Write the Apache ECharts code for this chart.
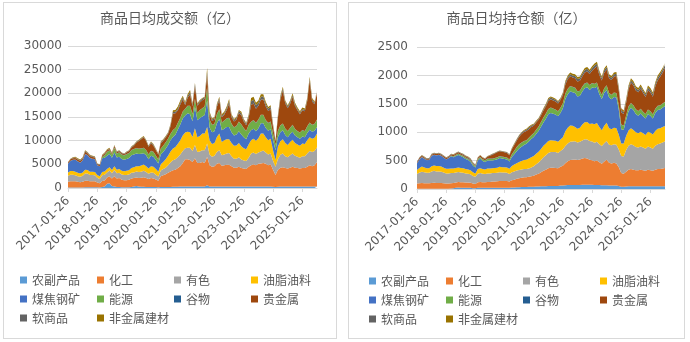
<!DOCTYPE html>
<html><head><meta charset="utf-8">
<script src="https://cdn.jsdelivr.net/npm/echarts/dist/echarts.min.js"></script>
<style>
html,body{margin:0;padding:0;background:#fff;width:690px;height:342px;overflow:hidden}
.panel{position:absolute;top:2px;height:335px;border:1px solid #d9d9d9;background:#fff}
#p1{left:3px;width:332px}
#p2{left:348px;width:335px}
</style></head><body>
<div id="p1" class="panel"></div><div id="p2" class="panel"></div>
<script>
const categories = [
'2017-01-26','2017-02-26','2017-03-26','2017-04-26','2017-05-26','2017-06-26','2017-07-26','2017-08-26','2017-09-26','2017-10-26','2017-11-26','2017-12-26',
'2018-01-26','2018-02-26','2018-03-26','2018-04-26','2018-05-26','2018-06-26','2018-07-26','2018-08-26','2018-09-26','2018-10-26','2018-11-26','2018-12-26',
'2019-01-26','2019-02-26','2019-03-26','2019-04-26','2019-05-26','2019-06-26','2019-07-26','2019-08-26','2019-09-26','2019-10-26','2019-11-26','2019-12-26',
'2020-01-26','2020-02-26','2020-03-26','2020-04-26','2020-05-26','2020-06-26','2020-07-26','2020-08-26','2020-09-26','2020-10-26','2020-11-26','2020-12-26',
'2021-01-26','2021-02-26','2021-03-26','2021-04-26','2021-05-26','2021-06-26','2021-07-26','2021-08-26','2021-09-26','2021-10-26','2021-11-26','2021-12-26',
'2022-01-26','2022-02-26','2022-03-26','2022-04-26','2022-05-26','2022-06-26','2022-07-26','2022-08-26','2022-09-26','2022-10-26','2022-11-26','2022-12-26',
'2023-01-26','2023-02-26','2023-03-26','2023-04-26','2023-05-26','2023-06-26','2023-07-26','2023-08-26','2023-09-26','2023-10-26','2023-11-26','2023-12-26',
'2024-01-26','2024-02-26','2024-03-26','2024-04-26','2024-05-26','2024-06-26','2024-07-26','2024-08-26','2024-09-26','2024-10-26','2024-11-26','2024-12-26',
'2025-01-26','2025-02-26','2025-03-26','2025-04-26','2025-05-26','2025-06-26','2025-07-26'];

const seriesNames = ['农副产品','化工','有色','油脂油料','煤焦钢矿','能源','谷物','贵金属','软商品','非金属建材'];
const seriesColors = ['#5B9BD5','#ED7D31','#A5A5A5','#FFC000','#4472C4','#70AD47','#255E91','#9E480E','#636363','#997300'];

const titleTurnover = '商品日均成交额（亿）';
const titleOI = '商品日均持仓额（亿）';
const yTicksTurnover = [0,5000,10000,15000,20000,25000,30000];
const yTicksOI = [0,500,1000,1500,2000,2500];

// ---- 成交额 (turnover) ----
const tAgri = [100,100,100,100,100,100,100,150,150,150,150,150,
150,120,200,300,900,1000,400,300,200,200,150,150,
150,150,200,300,400,300,250,250,200,200,200,200,
200,150,200,200,200,200,200,250,250,250,300,300,
300,300,300,300,300,300,300,300,300,600,300,300,
300,300,300,300,300,300,300,300,300,300,300,300,
300,300,300,300,300,300,300,300,300,300,300,300,
250,200,250,300,300,300,300,300,300,300,300,300,
300,300,300,300,300,300,300];
const tChem = [1200,1300,1300,1300,1200,1100,1200,1400,1400,1300,1300,1250,
1000,900,1300,1300,1300,1500,1600,2200,1800,1900,1600,1500,
1500,1600,1800,1800,1800,1800,1900,2000,1900,1700,1900,1800,
1600,1400,2300,2500,2700,3000,3300,3500,3600,4000,4300,5000,
5800,5800,5600,5200,6000,5000,5000,5200,5000,6000,4500,4200,
4300,4800,5000,4400,4500,4600,4600,4300,4000,4000,4200,3900,
3800,3700,4200,4500,4700,4500,4800,4900,5000,4800,4500,4700,
3600,2550,3600,4000,4100,3900,3800,4000,4200,4000,3900,3800,
3900,3900,4200,4500,4300,4500,5200];
const tNonferrous = [1300,1400,1400,1300,1200,1200,1300,1500,1500,1300,1300,1300,
1000,900,1200,1200,1100,1200,1100,1300,1100,1100,1100,1100,
1100,1100,1200,1200,1300,1300,1300,1400,1300,1100,1200,1200,
1000,900,1200,1300,1400,1600,1900,2100,2200,2300,2500,2500,
2300,2400,2600,2300,2800,2300,2400,2500,2700,2800,2300,2100,
2200,2500,2700,2200,2300,2400,2500,2100,1900,1900,2000,1800,
1700,1700,1900,2500,2500,2400,2400,2500,2600,2400,2300,2300,
1900,1750,2300,2700,2900,2500,2400,2600,2800,2500,2400,2300,
2500,2500,2800,3000,3000,3000,3100];
const tOils = [700,800,800,750,700,650,700,800,750,700,700,700,
600,550,700,700,700,700,700,800,750,800,800,800,
900,900,1000,1100,1100,1200,1300,1300,1200,1100,1300,1300,
1200,1000,1300,1500,1800,2000,2300,2500,2600,2800,3000,3300,
3300,3400,3300,3000,3500,3100,3300,3500,3500,3500,3000,2700,
2700,3200,3500,2800,3000,3000,2900,2800,2700,2800,3000,2800,
2600,2500,2800,2800,2900,2800,3000,3800,3600,3200,3000,3100,
2200,1400,2600,2900,3000,2800,2600,2800,2900,2700,2600,2500,
2700,2600,2800,2900,2800,2800,2900];
const tCoal = [1800,2100,2300,2500,2400,2300,2500,3300,3100,2900,2700,2700,
2000,2100,2900,2900,2800,2800,2600,2900,2600,2600,2500,2400,
2500,2600,2700,2700,2700,2600,2500,2400,2300,2000,2200,2100,
1900,1700,2100,2100,2200,2300,2400,2400,2600,3000,3300,3600,
3600,3900,3800,3300,4500,3600,3800,3600,3900,5600,2700,2500,
2500,2900,3100,2500,2400,2600,2600,2300,2200,2300,2500,2500,
2300,2100,2300,2100,2100,2000,2100,2200,2200,2000,2000,2000,
2200,2100,2000,1900,1900,1700,1600,1700,1700,1600,1500,1500,
1500,1400,1500,1600,1500,1500,1400];
const tEnergy = [0,0,0,0,0,0,0,0,0,0,0,0,
0,0,200,500,800,700,600,1000,800,900,900,900,
1000,1000,1100,1100,1100,1100,1100,1100,1100,1000,1000,1000,
900,800,1200,1300,1300,1300,1300,1450,1400,1400,1400,1400,
1400,1500,1700,1500,1700,1500,1600,1700,1800,2800,1600,1500,
1500,1900,2000,1600,1700,1800,1900,1700,1700,1800,2000,2100,
1900,1700,1800,1750,1800,1700,1800,1700,1700,1600,1600,1600,
1300,1100,1300,1400,1400,1300,1300,1300,1400,1300,1300,1300,
1300,1300,1400,1500,1400,1400,1500];
const tGrain = [60,60,60,50,50,50,50,50,50,50,50,50,
40,40,50,50,50,50,50,50,50,50,50,50,
50,50,50,50,50,50,50,50,50,50,50,50,
50,50,50,50,50,50,50,50,50,50,50,50,
60,60,60,60,60,60,60,60,60,60,60,60,
60,60,60,60,60,60,60,60,60,60,60,60,
60,60,60,60,60,60,60,60,60,60,60,60,
60,50,50,50,50,50,50,50,50,50,50,50,
50,50,50,50,50,50,50];
const tPrecious = [250,300,350,350,350,300,350,450,400,350,350,300,
250,250,300,350,300,300,250,300,250,250,250,250,
300,400,500,700,1100,1600,1900,2200,1900,1550,1600,1300,
1100,1000,1100,1000,1000,1000,1600,3500,3100,2600,2800,2600,
800,1700,2400,1600,2600,1500,1600,1700,1600,2500,1000,800,
900,1500,1900,1100,1200,1700,3000,1400,1200,1300,1800,1900,
1400,1200,1500,3500,3500,3000,2900,3200,3300,2900,2500,2600,
1300,700,2800,5500,6900,5300,4800,5050,5850,4850,4350,3850,
4150,4150,5350,8850,4950,4150,5550];
const tSoft = [50,80,100,120,150,150,150,180,150,150,150,150,
100,80,80,100,100,100,100,150,100,100,100,100,
100,100,150,150,150,150,150,150,150,150,200,200,
200,150,200,200,200,200,250,300,300,350,400,400,
300,400,500,400,500,300,300,300,300,700,340,300,
300,400,400,300,300,400,500,300,300,300,400,400,
300,300,300,800,800,700,600,600,600,500,500,500,
400,150,300,400,450,350,350,400,400,400,300,300,
300,300,300,400,400,300,400];
const tNonmetal = [40,60,90,130,150,150,150,170,100,100,100,100,
60,60,70,100,150,150,100,100,100,100,50,50,
100,100,100,100,100,100,150,150,100,150,150,150,
150,150,150,150,150,150,200,400,400,450,450,350,
300,340,440,240,240,240,240,140,140,800,300,240,
240,240,340,340,340,340,440,340,240,240,240,340,
240,240,340,690,640,540,540,540,440,440,340,340,
290,100,300,350,400,300,300,300,400,300,300,300,
300,300,300,400,300,300,300];

// ---- 持仓额 (open interest) ----
const oAgri = [5,5,5,5,5,5,5,5,5,5,5,5,
5,5,8,12,20,25,20,20,20,20,20,15,
15,20,20,20,20,20,20,20,20,20,20,20,
20,20,20,25,25,30,30,35,35,35,40,40,
40,45,45,50,50,50,55,55,55,55,55,60,
60,65,70,70,70,70,70,70,75,75,75,75,
75,70,70,70,65,65,65,60,60,60,60,55,
40,40,45,50,50,50,50,50,50,50,50,50,
50,50,50,50,50,50,50];
const oChem = [90,95,100,95,95,95,100,105,100,100,100,95,
90,90,95,95,95,100,100,100,95,95,90,80,
75,100,105,100,100,105,105,110,110,115,120,120,
120,120,110,130,140,150,160,165,170,170,175,185,
195,210,225,245,270,290,310,320,320,315,310,330,
350,390,420,440,445,450,440,450,460,470,460,440,
430,420,430,400,380,420,450,400,390,400,390,330,
240,230,260,290,300,290,280,280,290,280,270,290,
280,270,290,300,300,310,320];
const oNonferrous = [170,190,200,195,185,185,205,210,205,205,200,190,
180,180,180,175,175,175,170,165,160,155,150,135,
125,150,155,150,145,150,150,150,150,150,155,150,
150,145,135,140,145,145,145,145,145,145,147,155,
165,180,195,215,240,255,270,275,275,280,270,280,
290,300,310,320,320,320,310,310,320,330,335,330,
330,325,330,320,310,320,330,320,320,330,330,310,
300,300,380,420,440,430,410,400,410,400,390,410,
400,390,420,440,450,460,470];
const oOils = [70,80,90,85,80,80,90,95,95,95,90,85,
80,80,80,80,80,80,80,80,75,75,70,65,
60,80,85,80,80,85,85,85,90,90,95,95,
95,95,90,110,120,130,140,150,160,165,176,180,
180,185,190,195,200,205,210,210,205,200,195,200,
210,260,280,290,280,250,240,250,280,300,310,300,
320,325,330,300,280,310,320,290,280,290,290,260,
220,230,250,270,280,270,260,250,260,250,240,260,
260,250,260,270,270,270,270];
const oCoal = [115,150,165,150,140,145,180,185,185,195,185,175,
165,185,210,195,210,220,210,195,180,165,150,120,
105,150,170,145,130,140,140,135,140,150,155,150,
145,140,130,160,180,210,240,250,265,280,300,320,
335,350,365,390,410,435,470,480,470,460,450,470,
510,570,590,600,590,600,570,560,580,600,610,600,
630,640,640,580,550,580,580,540,530,540,540,440,
250,240,280,340,360,350,320,310,320,300,290,310,
300,280,320,330,330,340,350];
const oEnergy = [0,0,0,0,0,0,0,0,0,0,0,0,
0,0,10,15,20,20,20,20,20,20,20,20,
20,25,25,25,25,30,30,30,30,30,30,30,
30,30,30,40,60,70,70,70,65,60,58,60,
65,70,75,80,85,88,90,90,88,85,85,85,
85,90,90,90,90,90,88,85,85,80,80,80,
75,70,70,70,70,75,75,75,75,75,75,75,
80,75,75,80,80,80,80,80,80,75,75,75,
75,70,70,70,70,70,70];
const oGrain = [5,5,5,5,5,5,5,5,5,5,5,5,
5,5,5,5,5,5,5,5,5,5,5,5,
5,5,5,5,5,5,5,5,5,5,5,5,
5,5,5,5,5,5,5,5,5,5,5,5,
5,5,5,5,5,5,5,5,5,5,5,5,
5,5,5,5,5,5,5,5,5,5,5,5,
5,5,5,5,5,5,5,5,5,5,5,5,
5,5,5,5,5,5,5,5,5,5,5,5,
5,5,5,5,5,5,5];
const oPrecious = [15,20,20,20,15,15,20,20,20,20,20,20,
20,20,20,20,20,20,20,20,20,20,20,15,
15,20,25,25,25,35,50,70,80,85,85,85,
80,80,75,90,100,110,130,150,160,160,150,145,
130,125,120,115,120,130,140,145,142,140,135,135,
145,160,170,170,165,165,170,175,180,190,195,195,
215,270,280,260,250,270,280,260,260,280,300,255,
215,200,220,300,360,350,330,330,350,330,300,340,
330,310,390,450,500,540,600];
const oSoft = [8,10,10,10,10,10,10,10,10,10,10,10,
10,10,7,8,10,10,10,10,10,10,10,10,
5,5,5,5,5,5,10,10,10,10,10,10,
10,10,10,15,15,20,20,20,20,25,30,25,
20,15,15,20,25,27,30,30,30,30,30,20,
25,35,35,35,35,40,45,45,45,45,45,45,
45,50,50,45,40,45,45,40,40,40,40,40,
40,35,35,35,40,40,40,40,40,40,40,45,
45,45,45,50,50,50,50];
const oNonmetal = [2,5,5,5,5,5,5,5,5,5,5,5,
5,5,5,5,5,5,5,5,5,5,5,5,
5,5,5,5,5,5,5,5,5,5,5,5,
5,5,5,5,10,10,10,10,15,15,19,15,
15,15,15,15,15,15,20,20,20,20,15,15,
20,25,30,30,30,30,32,30,30,35,35,30,
35,35,35,30,30,30,30,30,30,30,30,30,
30,25,30,30,35,35,35,35,35,30,30,35,
35,30,30,35,35,35,35];

const turnoverData = [tAgri,tChem,tNonferrous,tOils,tCoal,tEnergy,tGrain,tPrecious,tSoft,tNonmetal];
const oiData = [oAgri,oChem,oNonferrous,oOils,oCoal,oEnergy,oGrain,oPrecious,oSoft,oNonmetal];

const NUM_FONT = '"DejaVu Sans", "Noto Sans CJK SC", sans-serif';
const CJK_FONT = '"Noto Sans CJK SC", sans-serif';
const TXT = '#595959';
const GRID = '#d9d9d9';

function makeOption(cfg) {
  const ticks = cfg.ticks;
  return {
    animation: false,
    title: {text: cfg.title, left: 'center', top: 8, padding: 0,
      textStyle: {fontSize: 14, fontWeight: 'normal', color: TXT, fontFamily: CJK_FONT}},
    legend: {left: cfg.legendLeft, top: cfg.legendTop, width: 320, padding: 0,
      itemWidth: 7, itemHeight: 7, itemGap: 5,
      icon: 'rect', data: seriesNames,
      textStyle: {fontSize: 12, color: TXT, width: 60, lineHeight: 14, fontFamily: CJK_FONT}},
    grid: {left: cfg.gl, top: cfg.gt, width: cfg.gw, height: 142, containLabel: false},
    xAxis: {type: 'category', data: categories, boundaryGap: false,
      axisLine: {lineStyle: {color: GRID}},
      axisTick: {show: true, interval: 11, length: 4, lineStyle: {color: GRID}},
      axisLabel: {interval: 11, rotate: 45, fontSize: 12, color: TXT, margin: 11, fontFamily: NUM_FONT},
      splitLine: {show: false}},
    yAxis: {type: 'value', min: ticks[0], max: ticks[ticks.length - 1], interval: ticks[1] - ticks[0],
      axisLine: {show: false}, axisTick: {show: false},
      axisLabel: {fontSize: 12, color: TXT, margin: cfg.ym, fontFamily: NUM_FONT, formatter: v => String(v)},
      splitLine: {lineStyle: {color: GRID, width: 1}}},
    series: seriesNames.map((n, i) => ({
      name: n, type: 'line', stack: 'total', data: cfg.data[i], symbol: 'none', showSymbol: false,
      lineStyle: {width: 0, opacity: 0},
      areaStyle: {opacity: 1, color: seriesColors[i]},
      itemStyle: {color: seriesColors[i]}
    }))
  };
}

const c1 = echarts.init(document.getElementById('p1'), null, {renderer: 'canvas'});
c1.setOption(makeOption({title: titleTurnover, ticks: yTicksTurnover, data: turnoverData,
  gl: 64, gt: 43, gw: 249, ym: 6, legendLeft: 16, legendTop: 270}));
const c2 = echarts.init(document.getElementById('p2'), null, {renderer: 'canvas'});
c2.setOption(makeOption({title: titleOI, ticks: yTicksOI, data: oiData,
  gl: 68, gt: 44, gw: 248, ym: 9, legendLeft: 20, legendTop: 271}));
</script>
</body></html>
